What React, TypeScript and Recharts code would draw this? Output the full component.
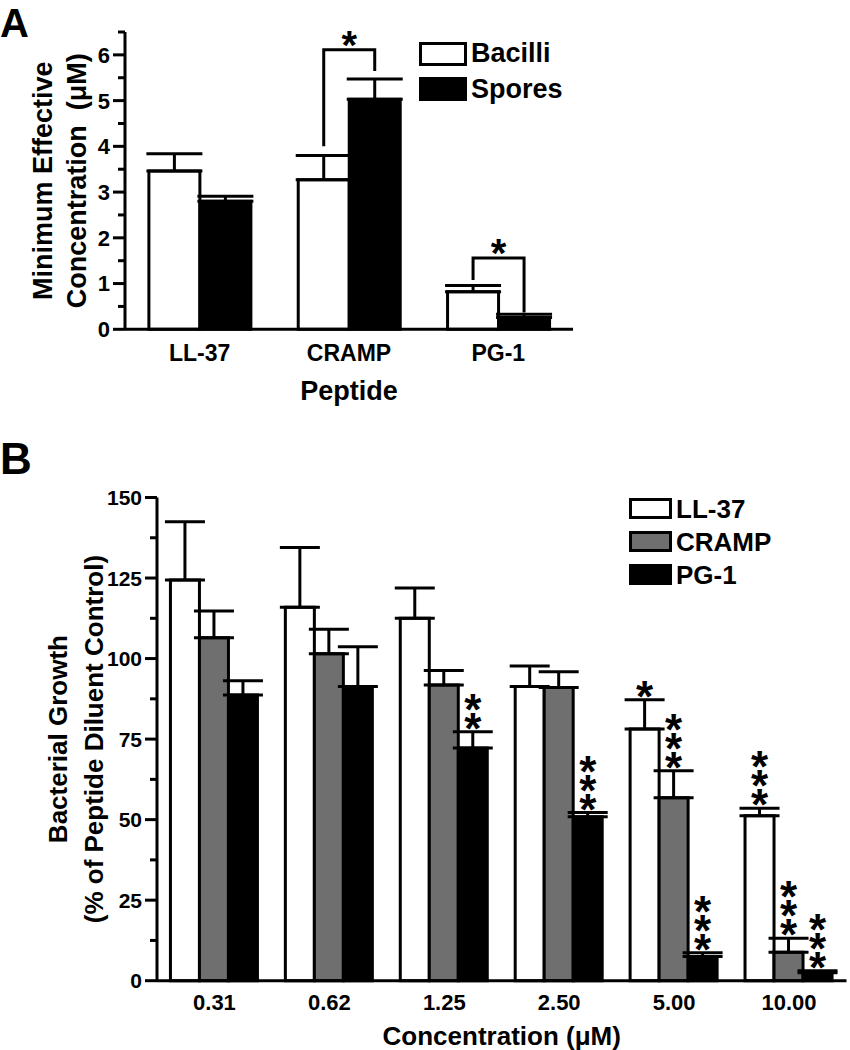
import React from 'react'
import { BarChart, Bar, XAxis, YAxis, ErrorBar, LabelList, Legend } from 'recharts'

const FONT = '"Liberation Sans", Arial, Helvetica, sans-serif'

// ---- panel A: minimum effective concentration ----
const peptides = ['LL-37', 'CRAMP', 'PG-1']
const bacilli = [3.46, 3.27, 0.82]
const bacilliErr = [0.38, 0.53, 0.14]
const spores = [2.8, 5.03, 0.26]
const sporesErr = [0.11, 0.44, 0.07]
// significance brackets: left leg start, bracket top, right leg end (null = none)
const bracketLeft = [null, 4.0, 1.08]
const bracketTop = [null, 6.11, 1.56]
const bracketRight = [null, 5.65, 0.37]
const seriesA = ['Bacilli', 'Spores']
const fillsA = ['#ffffff', '#000000']
const yTicksA = [0, 0.5, 1, 1.5, 2, 2.5, 3, 3.5, 4, 4.5, 5, 5.5, 6, 6.5]

// ---- panel B: bacterial growth ----
const concentrations = ['0.31', '0.62', '1.25', '2.50', '5.00', '10.00']
const ll37 = [124.4, 115.9, 112.5, 91.3, 78.1, 51.2]
const ll37Err = [18.1, 18.6, 9.4, 6.4, 9.1, 2.3]
const cramp = [106.5, 101.5, 91.8, 91.0, 56.8, 8.8]
const crampErr = [8.3, 7.6, 4.5, 4.9, 8.4, 4.4]
const pg1 = [88.7, 91.3, 72.2, 50.9, 7.5, 2.5]
const pg1Err = [4.4, 12.4, 5.1, 1.3, 1.2, 0.6]
const ll37Stars = [0, 0, 0, 0, 1, 3]
const crampStars = [0, 0, 0, 0, 3, 3]
const pg1Stars = [0, 0, 2, 3, 3, 3]
const seriesB = ['LL-37', 'CRAMP', 'PG-1']
const fillsB = ['#ffffff', '#6f6f6f', '#000000']
const yTicksB = [0, 12.5, 25, 37.5, 50, 62.5, 75, 87.5, 100, 112.5, 125, 137.5, 150]

const dataA = peptides.map((p, i) => ({
  peptide: p,
  bacilli: bacilli[i],
  spores: spores[i],
  bacilliErr: [0, bacilliErr[i]],
  sporesErr: [0, sporesErr[i]],
}))

const dataB = concentrations.map((c, i) => ({
  conc: c,
  ll37: ll37[i],
  cramp: cramp[i],
  pg1: pg1[i],
  ll37Err: [0, ll37Err[i]],
  crampErr: [0, crampErr[i]],
  pg1Err: [0, pg1Err[i]],
}))

function barBox(props: any) {
  const vb = props.viewBox && props.viewBox.width != null ? props.viewBox : props
  const h = Math.abs(vb.height)
  const top = Math.min(vb.y, vb.y + vb.height)
  return { x: vb.x, w: vb.width, top, base: top + h, h }
}

function makeYTick(isMajor: (v: number) => boolean, fontSize: number) {
  return function YTick(props: any) {
    const { x, y, payload } = props
    const major = isMajor(payload.value)
    const len = major ? 12 : 7
    return (
      <g>
        <line x1={x - len} x2={x} y1={y} y2={y} stroke="#000" strokeWidth={3} />
        {major && (
          <text x={x - 15} y={y} dy="0.36em" textAnchor="end" fontSize={fontSize}
            fontWeight={700} fontFamily={FONT} fill="#000">
            {payload.value}
          </text>
        )}
      </g>
    )
  }
}

function makeYLabel(lines: string[], offsets: number[], fontSize: number) {
  return function YLabel(props: any) {
    const vb = props.viewBox ?? { x: 0, y: 0, width: 0, height: 0 }
    const cy = vb.y + vb.height / 2
    return (
      <g>
        {lines.map((t, i) => (
          <text key={t} transform={`translate(${vb.x + offsets[i]}, ${cy}) rotate(-90)`}
            textAnchor="middle" fontSize={fontSize} fontWeight={700} fontFamily={FONT}
            fill="#000" style={{ whiteSpace: 'pre' }}>
            {t}
          </text>
        ))}
      </g>
    )
  }
}

// n asterisks stacked upright in one vertical text; bottom of the stack at y
function StarStack({ cx, y, n, size, spacing }: { cx: number; y: number; n: number; size: number; spacing: number }) {
  return (
    <text x={cx} y={y} textAnchor="end" fontSize={size} fontWeight={700} fontFamily={FONT} fill="#000"
      style={{ writingMode: 'vertical-rl', textOrientation: 'upright', letterSpacing: spacing }}>
      {'*'.repeat(n)}
    </text>
  )
}

function makeStars(values: number[], errs: number[], counts: number[]) {
  return function Stars(props: any) {
    const i = props.index
    const n = counts[i]
    if (!n) return null
    const b = barBox(props)
    const ppu = b.h / values[i]
    const errTop = b.base - (values[i] + errs[i]) * ppu
    return <StarStack cx={b.x + b.w / 2} y={errTop - 9} n={n} size={44} spacing={-30} />
  }
}

// bracket between bacilli and spores bars, drawn from the spores bar geometry
function Bracket(props: any) {
  const i = props.index
  if (bracketTop[i] == null) return null
  const b = barBox(props)
  const ppu = b.h / spores[i]
  const yOf = (v: number) => b.base - v * ppu
  const xl = b.x - b.w / 2
  const xr = b.x + b.w / 2
  const yt = yOf(bracketTop[i] as number)
  return (
    <g>
      <polyline
        points={`${xl},${yOf(bracketLeft[i] as number)} ${xl},${yt} ${xr},${yt} ${xr},${yOf(bracketRight[i] as number)}`}
        fill="none" stroke="#000" strokeWidth={3} strokeLinejoin="miter" />
      <text x={b.x} y={yt - 14 + 0.58 * 40} textAnchor="middle" fontSize={40}
        fontWeight={700} fontFamily={FONT} fill="#000">*</text>
    </g>
  )
}

function makeLegend(names: string[], fills: string[], boxW: number, boxH: number, rowH: number, fontSize: number) {
  return function LegendBox() {
    return (
      <div style={{ fontFamily: FONT, fontWeight: 700, fontSize, color: '#000' }}>
        {names.map((n, i) => (
          <div key={n} style={{ display: 'flex', alignItems: 'center', height: rowH }}>
            <span style={{ width: boxW, height: boxH, boxSizing: 'border-box', border: '3px solid #000',
              background: fills[i], marginRight: 4, display: 'inline-block' }} />
            <span style={{ lineHeight: 1 }}>{n}</span>
          </div>
        ))}
      </div>
    )
  }
}

const axisLine = { stroke: '#000', strokeWidth: 3 }

export default function App() {
  return (
    <div style={{ position: 'absolute', left: 0, top: 0, width: 850, height: 1050, background: '#fff' }}>
      <div style={{ position: 'absolute', left: 0, top: 3, fontFamily: FONT, fontWeight: 700, fontSize: 40, lineHeight: 1 }}>A</div>
      <div style={{ position: 'absolute', left: 0, top: 437, fontFamily: FONT, fontWeight: 700, fontSize: 44, lineHeight: 1 }}>B</div>

      <div style={{ position: 'absolute', left: 0, top: 0 }}>
        <BarChart width={850} height={420} data={dataA} barGap={0} barCategoryGap="16%"
          margin={{ top: 32, right: 277, bottom: 10.7, left: 65 }}>
          <XAxis dataKey="peptide" height={80} tickSize={0} tickMargin={15} tickLine={false}
            axisLine={axisLine} interval={0}
            tick={{ fill: '#000', fontSize: 23, fontWeight: 700, fontFamily: FONT }}
            label={{ value: 'Peptide', position: 'insideBottom', offset: 9, fill: '#000', fontSize: 27, fontWeight: 700, fontFamily: FONT }} />
          <YAxis type="number" domain={[0, 6.5]} ticks={yTicksA} interval={0} width={60}
            tickSize={0} tickMargin={0} tickLine={false} axisLine={axisLine}
            tick={makeYTick((v) => Number.isInteger(v), 22)}
            label={{ content: makeYLabel(['Minimum Effective', 'Concentration  (\u03bcM)'], [-13, 21], 27) }} />
          <Legend layout="vertical" align="center" verticalAlign="middle"
            wrapperStyle={{ left: 419, top: 36 }}
            content={makeLegend(seriesA, fillsA, 48, 24, 35.6, 27)} />
          <Bar dataKey="bacilli" name={seriesA[0]} fill={fillsA[0]} stroke="#000" strokeWidth={3} isAnimationActive={false}>
            <ErrorBar dataKey="bacilliErr" width={28} stroke="#000" strokeWidth={3} isAnimationActive={false} />
          </Bar>
          <Bar dataKey="spores" name={seriesA[1]} fill={fillsA[1]} stroke="#000" strokeWidth={3} isAnimationActive={false}>
            <ErrorBar dataKey="sporesErr" width={28} stroke="#000" strokeWidth={3} isAnimationActive={false} />
            <LabelList dataKey="spores" content={Bracket} />
          </Bar>
        </BarChart>
      </div>

      <div style={{ position: 'absolute', left: 0, top: 430 }}>
        <BarChart width={850} height={620} data={dataB} barGap={0} barCategoryGap="11.7%"
          margin={{ top: 67.5, right: 3.5, bottom: 5.3, left: 97 }}>
          <XAxis dataKey="conc" height={64} tickSize={0} tickMargin={14} tickLine={false}
            axisLine={axisLine} interval={0}
            tick={{ fill: '#000', fontSize: 22, fontWeight: 700, fontFamily: FONT }}
            label={{ value: 'Concentration (\u03bcM)', position: 'insideBottom', offset: 0, fill: '#000', fontSize: 26, fontWeight: 700, fontFamily: FONT }} />
          <YAxis type="number" domain={[0, 150]} ticks={yTicksB} interval={0} width={60}
            tickSize={0} tickMargin={0} tickLine={false} axisLine={axisLine}
            tick={makeYTick((v) => v % 25 === 0, 21)}
            label={{ content: makeYLabel(['Bacterial Growth', '(% of Peptide Diluent Control)'], [-30, 6], 26) }} />
          <Legend layout="vertical" align="center" verticalAlign="middle"
            wrapperStyle={{ left: 629, top: 62 }}
            content={makeLegend(seriesB, fillsB, 43, 21, 33, 26)} />
          <Bar dataKey="ll37" name={seriesB[0]} fill={fillsB[0]} stroke="#000" strokeWidth={3} isAnimationActive={false}>
            <ErrorBar dataKey="ll37Err" width={20} stroke="#000" strokeWidth={3} isAnimationActive={false} />
            <LabelList dataKey="ll37" content={makeStars(ll37, ll37Err, ll37Stars)} />
          </Bar>
          <Bar dataKey="cramp" name={seriesB[1]} fill={fillsB[1]} stroke="#000" strokeWidth={3} isAnimationActive={false}>
            <ErrorBar dataKey="crampErr" width={20} stroke="#000" strokeWidth={3} isAnimationActive={false} />
            <LabelList dataKey="cramp" content={makeStars(cramp, crampErr, crampStars)} />
          </Bar>
          <Bar dataKey="pg1" name={seriesB[2]} fill={fillsB[2]} stroke="#000" strokeWidth={3} isAnimationActive={false}>
            <ErrorBar dataKey="pg1Err" width={20} stroke="#000" strokeWidth={3} isAnimationActive={false} />
            <LabelList dataKey="pg1" content={makeStars(pg1, pg1Err, pg1Stars)} />
          </Bar>
        </BarChart>
      </div>
    </div>
  )
}
